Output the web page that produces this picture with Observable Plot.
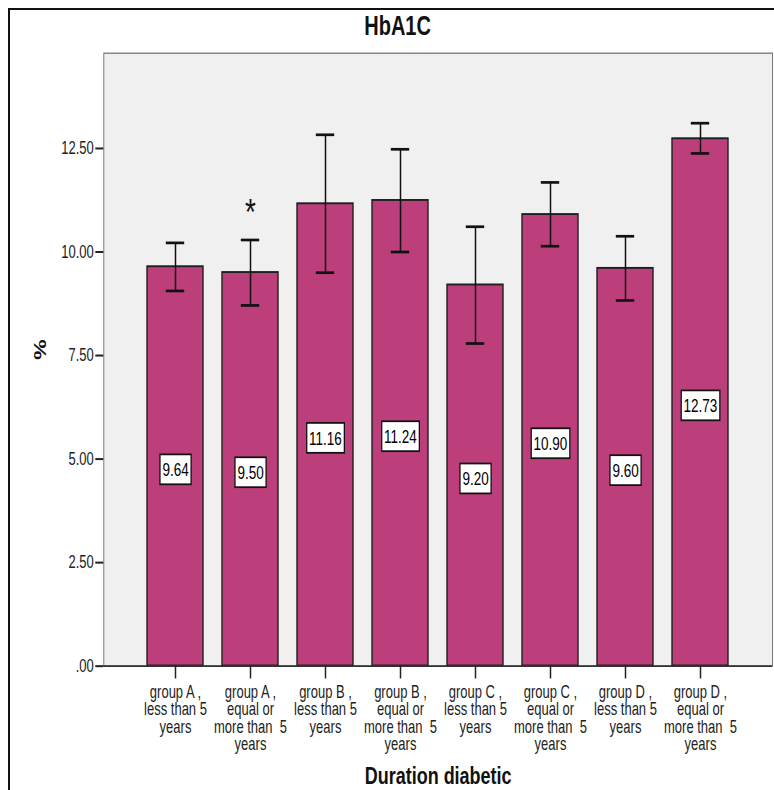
<!DOCTYPE html>
<html>
<head>
<meta charset="utf-8">
<script src="https://cdn.jsdelivr.net/npm/d3@7"></script>
<script src="https://cdn.jsdelivr.net/npm/@observablehq/plot@0.6"></script>
<style>
  html, body { margin: 0; padding: 0; background: #fff; overflow: hidden; }
  #wrap { position: relative; width: 774px; height: 790px; overflow: hidden; }
  #border { position: absolute; left: 8px; top: 8px; width: 800px; height: 800px; border: 2.5px solid #111; pointer-events: none; }
</style>
</head>
<body>
<div id="wrap"><div id="chart"></div><div id="border"></div></div>
<script>
// ---- data ----
const categories = [
  "group A ,\nless than 5\nyears",
  "group A ,\nequal or\nmore than  5\nyears",
  "group B ,\nless than 5\nyears",
  "group B ,\nequal or\nmore than  5\nyears",
  "group C ,\nless than 5\nyears",
  "group C ,\nequal or\nmore than  5\nyears",
  "group D ,\nless than 5\nyears",
  "group D ,\nequal or\nmore than  5\nyears"
];
const means  = [9.64, 9.50, 11.16, 11.24, 9.20, 10.90, 9.60, 12.73];
const lower  = [9.06, 8.71, 9.50, 10.00, 7.79, 10.14, 8.83, 12.38];
const upper  = [10.22, 10.29, 12.83, 12.48, 10.61, 11.68, 10.38, 13.11];
const valueLabels = ["9.64", "9.50", "11.16", "11.24", "9.20", "10.90", "9.60", "12.73"];
const yTicks = [0, 2.5, 5, 7.5, 10, 12.5];
const yTickLabels = [".00", "2.50", "5.00", "7.50", "10.00", "12.50"];
const annotationCategories = [categories[1]];
const annotationValues = [11.1];
const annotationTexts = ["*"];
const chartTitle = "HbA1C";
const xTitle = "Duration diabetic";
const yTitle = "%";

// ---- build ----
const H = 585;            // internal height, stretched vertically to 790
const data = categories.map((c, i) => ({category: c, mean: means[i], lo: lower[i], hi: upper[i], label: valueLabels[i]}));
const annotations = annotationCategories.map((c, i) => ({category: c, value: annotationValues[i], text: annotationTexts[i]}));
const font = '"Liberation Sans", Arial, Helvetica, sans-serif';

const svg = Plot.plot({
  width: 774,
  height: H,
  marginLeft: 103.3,
  marginRight: 2,
  marginTop: 38.9,
  marginBottom: 92.2,
  style: {fontFamily: font, background: "transparent"},
  x: {type: "band", domain: categories, paddingInner: 0.248, paddingOuter: 0.564, axis: null},
  y: {domain: [0, 14.8], axis: null},
  marks: [
    Plot.frame({fill: "#f0f0f0", stroke: "#7a7a7a"}),
    Plot.barY(data, {x: "category", y: "mean", fill: "#bc3f7c", stroke: "#1e1e1e", strokeWidth: 1.4}),
    Plot.ruleX(data, {x: "category", y1: "lo", y2: "hi", stroke: "#111", strokeWidth: 1.5}),
    Plot.tickY(data, {x: "category", y: "lo", stroke: "#111", strokeWidth: 2, insetLeft: 18.8, insetRight: 18.8}),
    Plot.tickY(data, {x: "category", y: "hi", stroke: "#111", strokeWidth: 2, insetLeft: 18.8, insetRight: 18.8}),
    Plot.text(data, {x: "category", y: d => d.mean / 2, text: "label", fontSize: 13.5, fill: "#000", dy: 2.8}),
    Plot.text(annotations, {x: "category", y: "value", text: "text", fontSize: 28, fill: "#111", dy: 5}),
    Plot.ruleY([0], {stroke: "#333", strokeWidth: 1.3}),
    Plot.axisY({ticks: yTicks, tickFormat: d => yTickLabels[yTicks.indexOf(d)], tickSize: 8, tickPadding: 2, fontSize: 13, color: "#222", strokeWidth: 1.5, label: null}),
    Plot.axisX({tickSize: 9.6, tickPadding: 4.6, fontSize: 13, lineHeight: 1.0, color: "#222", strokeWidth: 1.5, label: null}),
    Plot.text([chartTitle], {frameAnchor: "top", lineAnchor: "middle", text: d => d, dx: -40.6, dy: -19.6, fontSize: 20, fontWeight: "bold", fill: "#111"}),
    Plot.text([xTitle], {frameAnchor: "bottom", lineAnchor: "middle", text: d => d, dy: 81.5, fontSize: 18, fontWeight: "bold", fill: "#111"}),
    Plot.text([yTitle], {frameAnchor: "left", text: d => d, dx: -63.3, rotate: -90, fontSize: 17, fontWeight: "bold", fill: "#111"})
  ]
});

svg.setAttribute("height", 790);
svg.setAttribute("preserveAspectRatio", "none");
svg.style.width = "774px";
svg.style.height = "790px";
svg.style.maxWidth = "none";
document.getElementById("chart").append(svg);

// white boxes behind the value labels
svg.querySelectorAll('g[aria-label="text"] text').forEach(t => {
  if (!/^\d+\.\d\d$/.test(t.textContent)) return;
  const b = t.getBBox();
  const r = document.createElementNS("http://www.w3.org/2000/svg", "rect");
  r.setAttribute("x", b.x - 2.4);
  r.setAttribute("y", b.y - 3.5);
  r.setAttribute("width", b.width + 4.8);
  r.setAttribute("height", b.height + 7);
  r.setAttribute("fill", "#fff");
  r.setAttribute("stroke", "#111");
  r.setAttribute("stroke-width", 1.3);
  if (t.getAttribute("transform")) r.setAttribute("transform", t.getAttribute("transform"));
  t.parentNode.insertBefore(r, t);
});
</script>
</body>
</html>
